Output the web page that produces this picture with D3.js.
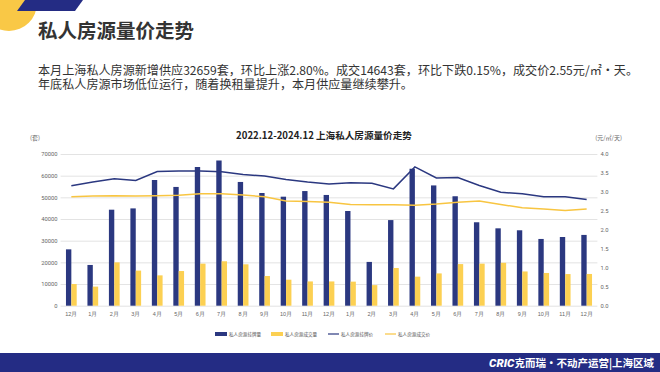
<!DOCTYPE html>
<html>
<head>
<meta charset="utf-8">
<script src="https://cdn.jsdelivr.net/npm/d3@7"></script>
<style>
  html, body { margin: 0; padding: 0; background: #fff; }
  svg { display: block; font-family: "Noto Sans CJK SC", "Noto Sans", sans-serif; }
  .tick text { fill: #666; }
</style>
</head>
<body>
<svg id="chart" width="660" height="372"></svg>
<script>
// Shanghai private rental listings: volume (bars, left axis) and price (lines, right axis)
const periods = [
  "2022.12", "2023.01", "2023.02", "2023.03", "2023.04", "2023.05", "2023.06",
  "2023.07", "2023.08", "2023.09", "2023.10", "2023.11", "2023.12",
  "2024.01", "2024.02", "2024.03", "2024.04", "2024.05", "2024.06",
  "2024.07", "2024.08", "2024.09", "2024.10", "2024.11", "2024.12"
]
const monthLabels = [
  "12月", "1月", "2月", "3月", "4月", "5月", "6月", "7月", "8月", "9月", "10月", "11月", "12月",
  "1月", "2月", "3月", "4月", "5月", "6月", "7月", "8月", "9月", "10月", "11月", "12月"
]
const listingVolume = [
  26000, 18800, 44300, 44900, 58000, 54800, 64000, 67000, 57100, 52000, 50300, 52900, 51100,
  43700, 20200, 39500, 63200, 55500, 50500, 38500, 35700, 34800, 30800, 31700, 32659
]
const dealVolume = [
  10000, 8800, 20000, 16200, 14000, 16000, 19400, 20500, 19100, 13700, 12000, 11200, 11200,
  11100, 9500, 17400, 13400, 14900, 19200, 19400, 19800, 15800, 15100, 14600, 14643
]
const listingPrice = [
  3.16, 3.26, 3.35, 3.30, 3.54, 3.55, 3.55, 3.53, 3.46, 3.42, 3.33, 3.26, 3.21,
  3.24, 3.23, 3.08, 3.66, 3.37, 3.38, 3.17, 2.99, 2.95, 2.87, 2.87, 2.80
]
const dealPrice = [
  2.87, 2.89, 2.90, 2.89, 2.90, 2.91, 2.95, 2.95, 2.92, 2.87, 2.76, 2.75, 2.73,
  2.67, 2.66, 2.66, 2.65, 2.68, 2.73, 2.76, 2.67, 2.58, 2.55, 2.51, 2.55
]
const leftTicks = [0, 10000, 20000, 30000, 40000, 50000, 60000, 70000]
const rightTicks = [0, 0.5, 1, 1.5, 2, 2.5, 3, 3.5, 4]
const seriesNames = ["私人房源挂牌量", "私人房源成交量", "私人房源挂牌价", "私人房源成交价"]

const navy = "#2b3880"
const yellow = "#fcd052"
const banner = "#242c84"

const svg = d3.select("#chart")

// top-left decoration
svg.append("circle").attr("cx", 9).attr("cy", 3).attr("r", 28).attr("fill", "#f9c846")
svg.append("path").attr("d", "M25,0 L83,0 L75,11 L17,11 Z").attr("fill", banner)

// heading + summary
svg.append("text").attr("x", 38).attr("y", 38)
  .style("font-size", "19.5px").style("font-weight", "bold").attr("fill", "#333")
  .text("私人房源量价走势")
svg.append("text").attr("x", 38).attr("y", 75)
  .style("font-size", "12.1px").attr("fill", "#333")
  .text("本月上海私人房源新增供应32659套，环比上涨2.80%。成交14643套，环比下跌0.15%，成交价2.55元/㎡·天。")
svg.append("text").attr("x", 38).attr("y", 89)
  .style("font-size", "12.1px").attr("fill", "#333")
  .text("年底私人房源市场低位运行，随着换租量提升，本月供应量继续攀升。")

// chart frame
const plotLeft = 60.6, plotRight = 597.4, plotTop = 154, plotBottom = 305.7

svg.append("text").attr("x", 324).attr("y", 139).attr("text-anchor", "middle")
  .style("font-size", "9.6px").style("font-weight", "bold").attr("fill", "#222")
  .text("2022.12-2024.12 上海私人房源量价走势")
svg.append("text").attr("x", 30).attr("y", 140)
  .style("font-size", "6px").attr("fill", "#666").text("(套)")
svg.append("text").attr("x", 622).attr("y", 140).attr("text-anchor", "end")
  .style("font-size", "6px").attr("fill", "#666").text("(元/㎡/天)")

const x = d3.scaleBand().domain(periods).range([plotLeft, plotRight]).paddingInner(0.5).paddingOuter(0.25)
const xs = d3.scaleBand().domain([0, 1]).range([0, x.bandwidth()])
const yL = d3.scaleLinear().domain([0, 70000]).range([plotBottom, plotTop])
const yR = d3.scaleLinear().domain([0, 4]).range([plotBottom, plotTop])

// grid
svg.append("g")
  .attr("transform", `translate(${plotLeft},0)`)
  .call(d3.axisLeft(yL).tickValues(leftTicks).tickSize(-(plotRight - plotLeft)).tickFormat(""))
  .call((g) => g.select(".domain").remove())
  .call((g) => g.selectAll("line").attr("stroke", "#dcdcdc").attr("stroke-width", 0.8))

// left axis
svg.append("g")
  .attr("transform", `translate(${plotLeft - 3},0)`)
  .call(d3.axisLeft(yL).tickValues(leftTicks).tickSize(0).tickPadding(0).tickFormat(d3.format("d")))
  .call((g) => g.select(".domain").remove())
  .call((g) => g.selectAll("text").style("font-size", "5.8px").style("font-family", "Roboto, sans-serif"))

// right axis
svg.append("g")
  .attr("transform", `translate(${plotRight + 3},0)`)
  .call(d3.axisRight(yR).tickValues(rightTicks).tickSize(0).tickPadding(0).tickFormat(d3.format(".1f")))
  .call((g) => g.select(".domain").remove())
  .call((g) => g.selectAll("text").style("font-size", "5.8px").style("font-family", "Roboto, sans-serif"))

// bottom axis
svg.append("g")
  .attr("transform", `translate(0,${plotBottom + 3})`)
  .call(d3.axisBottom(x).tickSize(0).tickPadding(3).tickFormat((d, i) => monthLabels[i]))
  .call((g) => g.select(".domain").remove())
  .call((g) => g.selectAll("text").style("font-size", "5.5px"))

// bars
const bars = svg.append("g")
bars.selectAll(".bar-list").data(listingVolume).join("rect")
  .attr("class", "bar-list")
  .attr("x", (d, i) => x(periods[i]) + xs(0))
  .attr("width", xs.bandwidth())
  .attr("y", (d) => yL(d))
  .attr("height", (d) => plotBottom - yL(d))
  .attr("fill", navy)
bars.selectAll(".bar-deal").data(dealVolume).join("rect")
  .attr("class", "bar-deal")
  .attr("x", (d, i) => x(periods[i]) + xs(1))
  .attr("width", xs.bandwidth())
  .attr("y", (d) => yL(d))
  .attr("height", (d) => plotBottom - yL(d))
  .attr("fill", yellow)

// price lines
const line = d3.line()
  .x((d, i) => x(periods[i]) + x.bandwidth() / 2)
  .y((d) => yR(d))
svg.append("path").datum(dealPrice).attr("d", line)
  .attr("fill", "none").attr("stroke", "#f8c541").attr("stroke-width", 1.5)
svg.append("path").datum(listingPrice).attr("d", line)
  .attr("fill", "none").attr("stroke", navy).attr("stroke-width", 1.5)

// legend
const legendX = [215, 271, 328, 385]
const legend = svg.append("g").style("font-size", "4.6px").attr("fill", "#555")
seriesNames.forEach((name, i) => {
  const g = legend.append("g").attr("transform", `translate(${legendX[i]},334)`)
  if (i < 2) {
    g.append("rect").attr("x", 0).attr("y", -2).attr("width", 12).attr("height", 4)
      .attr("fill", i === 0 ? navy : yellow)
  } else {
    g.append("line").attr("x1", 0).attr("x2", 11).attr("y1", 0).attr("y2", 0)
      .attr("stroke", i === 2 ? navy : "#f8c541").attr("stroke-width", 1.2)
  }
  g.append("text").attr("x", i < 2 ? 14 : 13).attr("y", 1.6).text(name)
})

// footer banner
svg.append("rect").attr("x", 0).attr("y", 353).attr("width", 660).attr("height", 19).attr("fill", banner)
const foot = svg.append("text").attr("x", 654).attr("y", 367).attr("text-anchor", "end")
  .attr("fill", "#fff").style("font-size", "10.5px").style("font-weight", "bold")
foot.append("tspan").style("font-style", "italic").style("font-family", "Roboto, sans-serif")
  .style("font-weight", "900").style("font-size", "11.5px").text("CRIC")
foot.append("tspan").text("克而瑞·不动产运营|上海区域")
</script>
</body>
</html>
